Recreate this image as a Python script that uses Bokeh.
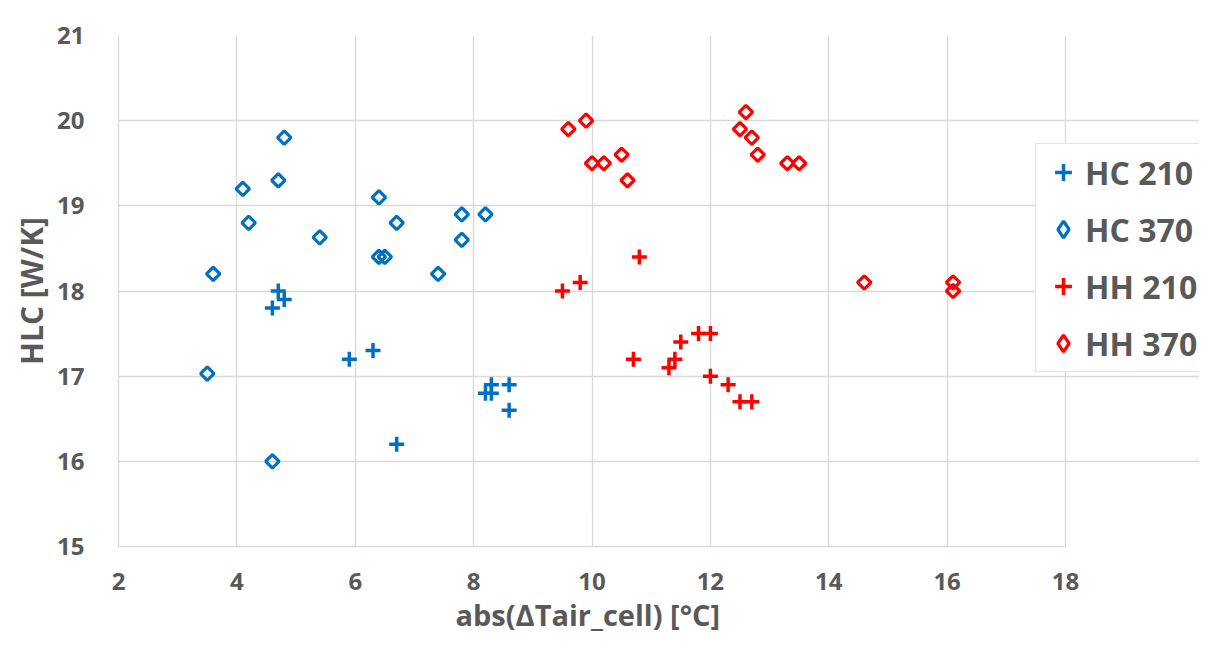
import math
from bokeh.plotting import figure
from bokeh.models import Legend, LegendItem, FixedTicker, Title
from bokeh.embed import file_html
from bokeh.resources import INLINE

# ---- data ----
hc210_x = [4.7, 4.8, 4.6, 5.9, 6.3, 8.3, 8.6, 8.2, 8.3, 8.6, 6.7]
hc210_y = [18.0, 17.9, 17.8, 17.2, 17.3, 16.9, 16.9, 16.8, 16.8, 16.6, 16.2]

hc370_x = [4.8, 4.1, 4.7, 4.2, 5.4, 3.6, 6.4, 6.7, 6.4, 6.5, 7.8, 8.2, 7.8, 7.4, 3.5, 4.6]
hc370_y = [19.8, 19.2, 19.3, 18.8, 18.63, 18.2, 19.1, 18.8, 18.4, 18.4, 18.9, 18.9, 18.6, 18.2, 17.03, 16.0]

hh210_x = [10.8, 9.5, 9.8, 10.7, 11.3, 11.4, 11.5, 11.8, 12.0, 12.0, 12.3, 12.5, 12.7]
hh210_y = [18.4, 18.0, 18.1, 17.2, 17.1, 17.2, 17.4, 17.5, 17.5, 17.0, 16.9, 16.7, 16.7]

hh370_x = [9.6, 9.9, 10.0, 10.2, 10.5, 10.6, 12.6, 12.5, 12.7, 12.8, 13.3, 13.5, 14.6, 16.1, 16.1]
hh370_y = [19.9, 20.0, 19.5, 19.5, 19.6, 19.3, 20.1, 19.9, 19.8, 19.6, 19.5, 19.5, 18.1, 18.1, 18.0]

series_names = ["HC 210", "HC 370", "HH 210", "HH 370"]
x_ticks = [2, 4, 6, 8, 10, 12, 14, 16, 18]
y_ticks = [15, 16, 17, 18, 19, 20, 21]
x_min, x_max = 2, 18
y_min, y_max = 15, 21

BLUE = "#0070C0"
RED = "#FF0000"
GRAY_TXT = "#595959"
GRID = "#d9d9d9"
FONT = "Open Sans"

# the plotted area (x 2..18) is 947 px wide; the frame is widened to the right
# so that the legend, which sits partly outside the axes box, is not clipped
AXES_W = 947
PX_PER_UNIT = AXES_W / (x_max - x_min)
FRAME_W = 1081
x_end = x_min + FRAME_W / PX_PER_UNIT

p = figure(
    frame_width=FRAME_W, frame_height=511,
    x_range=(x_min, x_end), y_range=(y_min, y_max),
    output_backend="svg", toolbar_location=None,
    min_border_left=118, min_border_top=35, min_border_right=0, min_border_bottom=0,
    background_fill_color="white", border_fill_color="white",
)
p.outline_line_color = None

r1 = p.scatter(hc210_x, hc210_y, marker="cross", size=15, line_color=BLUE, line_width=3.5)
r2 = p.scatter(hc370_x, hc370_y, marker="square", size=9.5, angle=math.pi / 4,
               line_color=BLUE, fill_color=None, line_width=3.2)
r3 = p.scatter(hh210_x, hh210_y, marker="cross", size=15, line_color=RED, line_width=3.5)
r4 = p.scatter(hh370_x, hh370_y, marker="square", size=9.5, angle=math.pi / 4,
               line_color=RED, fill_color=None, line_width=3.2)
# legend-only glyphs (legend markers are drawn unrotated, so use a diamond there);
# hidden in the plot, shown un-dimmed in the legend
l2 = p.scatter(hc370_x, hc370_y, marker="diamond", size=12,
               line_color=BLUE, fill_color=None, line_width=3.2, visible=False)
l4 = p.scatter(hh370_x, hh370_y, marker="diamond", size=12,
               line_color=RED, fill_color=None, line_width=3.2, visible=False)

# axes
p.xaxis.ticker = FixedTicker(ticks=x_ticks)
p.yaxis.ticker = FixedTicker(ticks=y_ticks)
p.xaxis.bounds = (x_min, x_max)
for ax in (p.xaxis[0], p.yaxis[0]):
    ax.axis_line_color = GRID
    ax.axis_line_width = 1.3
    ax.major_tick_line_color = None
    ax.minor_tick_line_color = None
    ax.major_label_text_font = FONT
    ax.major_label_text_font_style = "bold"
    ax.major_label_text_color = GRAY_TXT
    ax.major_label_text_font_size = "24px"
    ax.axis_label_text_font = FONT
    ax.axis_label_text_font_style = "bold"
    ax.axis_label_text_color = GRAY_TXT
    ax.axis_label_text_font_size = "30px"

p.yaxis.axis_label = "HLC [W/K]"
p.xaxis.major_label_standoff = 20
p.yaxis.major_label_standoff = 28
p.yaxis.axis_label_standoff = 2

# x-axis title placed under the axes box (not under the widened frame)
x_title = Title(
    text="abs(ΔTair_cell) [°C]", align="left", offset=337,
    text_font=FONT, text_font_style="bold", text_color=GRAY_TXT,
    text_font_size="29px", standoff=0,
)
p.add_layout(x_title, "below")

p.xgrid.grid_line_color = GRID
p.ygrid.grid_line_color = GRID
p.xgrid.grid_line_width = 1.3
p.ygrid.grid_line_width = 1.3
p.xgrid.bounds = (y_min, y_max)
p.ygrid.bounds = (x_min, x_max)

legend = Legend(
    items=[LegendItem(label=n, renderers=[r]) for n, r in zip(series_names, [r1, l2, r3, l4])],
    location=(917, 174),
    label_text_font=FONT, label_text_font_style="bold", label_text_color=GRAY_TXT,
    label_text_font_size="32px",
    glyph_width=42, glyph_height=44, label_height=44, label_standoff=1,
    spacing=13, padding=6, margin=0,
    border_line_color="#c8c8c8", border_line_width=1.3,
    background_fill_color="white", background_fill_alpha=1.0,
    inactive_fill_alpha=0.0,
)
p.add_layout(legend, "center")

open("out.html", "w").write(file_html(p, INLINE))
